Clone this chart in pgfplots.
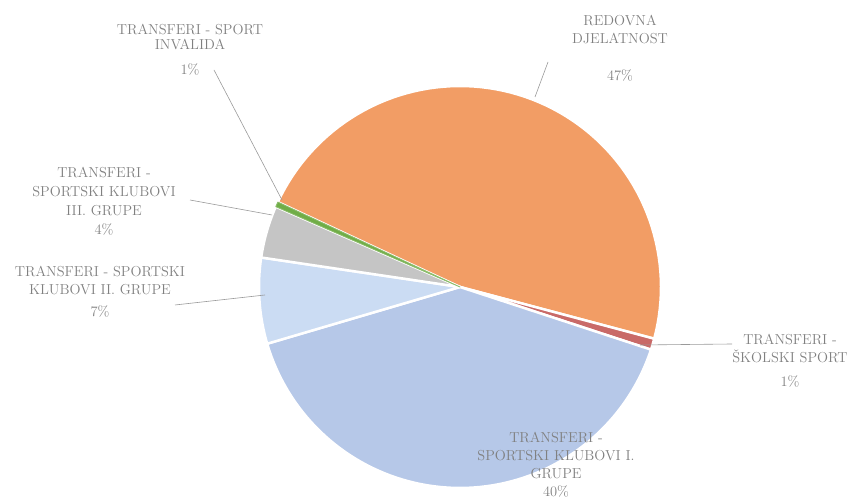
\documentclass[border=0pt]{standalone}
\usepackage{pgfplots}
\usepackage{pgfplotstable}
\pgfplotsset{compat=1.18}
\definecolor{cOrange}{HTML}{ED7D31}
\definecolor{cRed}{HTML}{C0504D}
\definecolor{cBlue}{HTML}{8EAADB}
\definecolor{cLBlue}{HTML}{A9C4EB}
\definecolor{cGray}{HTML}{A5A5A5}
\definecolor{cGreen}{HTML}{70AD47}
\definecolor{cText}{HTML}{808080}
\pgfplotstableread{
label value
Redovna 47.2
Skolski 0.9
SKI 40.4
SKII 6.9
SKIII 4.2
Invalida 0.4
}\piedata
\begin{document}
\begin{tikzpicture}
\pgfmathsetmacro\aA{155}
\pgfplotstablegetelem{0}{value}\of\piedata \pgfmathsetmacro\aB{\aA-3.6*\pgfplotsretval}
\pgfplotstablegetelem{1}{value}\of\piedata \pgfmathsetmacro\aC{\aB-3.6*\pgfplotsretval}
\pgfplotstablegetelem{2}{value}\of\piedata \pgfmathsetmacro\aD{\aC-3.6*\pgfplotsretval}
\pgfplotstablegetelem{3}{value}\of\piedata \pgfmathsetmacro\aE{\aD-3.6*\pgfplotsretval}
\pgfplotstablegetelem{4}{value}\of\piedata \pgfmathsetmacro\aF{\aE-3.6*\pgfplotsretval}
\pgfplotstablegetelem{5}{value}\of\piedata \pgfmathsetmacro\aG{\aF-3.6*\pgfplotsretval}
\begin{axis}[
  x=1bp, y=1bp, xmin=0, xmax=848, ymin=0, ymax=502,
  hide axis, scale only axis, clip=false,
  every axis plot/.append style={samples=80, variable=\t, draw=white, line width=2.5pt, line join=round},
]
\addplot[fill=cOrange!75, domain=\aB:\aA] ({460+201*cos(\t)},{215+201*sin(\t)}) -- (axis cs:460,215) -- cycle;
\addplot[fill=cRed!85, domain=\aC:\aB] ({460+201*cos(\t)},{215+201*sin(\t)}) -- (axis cs:460,215) -- cycle;
\addplot[fill=cBlue!65, domain=\aD:\aC] ({460+201*cos(\t)},{215+201*sin(\t)}) -- (axis cs:460,215) -- cycle;
\addplot[fill=cLBlue!60, domain=\aE:\aD] ({460+201*cos(\t)},{215+201*sin(\t)}) -- (axis cs:460,215) -- cycle;
\addplot[fill=cGray!65, domain=\aF:\aE] ({460+201*cos(\t)},{215+201*sin(\t)}) -- (axis cs:460,215) -- cycle;
\addplot[fill=cGreen, draw=cGreen!80, line width=0.8pt, domain=\aG:\aF] ({460+201*cos(\t)},{215+201*sin(\t)}) -- (axis cs:460,215) -- cycle;
% leader lines
\draw[cText!80, line width=0.6pt] (axis cs:548,440) -- (axis cs:535,405);
\draw[cText!80, line width=0.6pt] (axis cs:214,432) -- (axis cs:282,302);
\draw[cText!80, line width=0.6pt] (axis cs:190,302) -- (axis cs:272,287);
\draw[cText!80, line width=0.6pt] (axis cs:175,197) -- (axis cs:265,207);
\draw[cText!80, line width=0.6pt] (axis cs:640,157) -- (axis cs:732,158);
% labels
\begin{scope}[every node/.style={text=cText, font=\fontsize{14.5}{18}\selectfont, align=center, inner sep=0pt}]
\node at (axis cs:620,454) {REDOVNA\\DJELATNOST\\[19pt]47\%};
\node at (axis cs:190,452) {TRANSFERI - SPORT\\[-3pt]INVALIDA\\[7pt]1\%};
\node at (axis cs:104,301) {TRANSFERI -\\[1pt]SPORTSKI KLUBOVI\\[1pt]III. GRUPE\\[1pt]4\%};
\node at (axis cs:100,210) {TRANSFERI - SPORTSKI\\KLUBOVI II. GRUPE\\[4pt]7\%};
\node at (axis cs:790,141) {TRANSFERI -\\ŠKOLSKI SPORT\\[6pt]1\%};
\node at (axis cs:556,37) {TRANSFERI -\\SPORTSKI KLUBOVI I.\\GRUPE\\40\%};
\end{scope}
\end{axis}
\pgfresetboundingbox
\path (current axis.south west) rectangle (current axis.north east);
\end{tikzpicture}
\end{document}
